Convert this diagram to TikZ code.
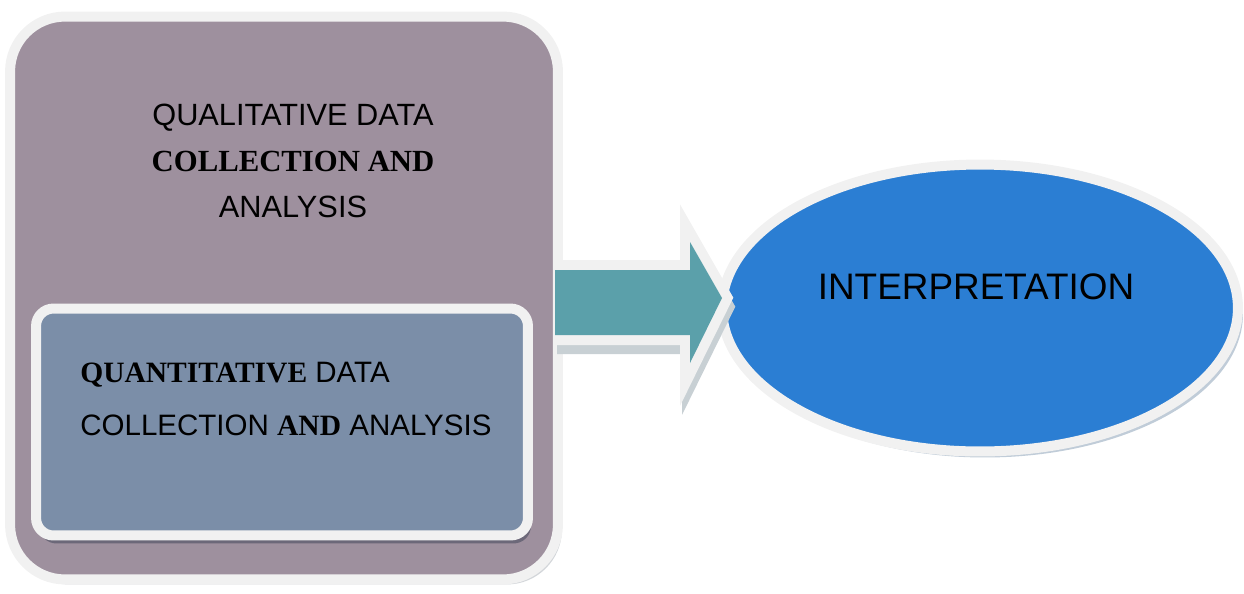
\documentclass[tikz,border=0pt]{standalone}
\usepackage{fontspec}
\setmainfont{Liberation Sans}
\newfontfamily\serifbold{Liberation Serif}
\usetikzlibrary{shapes.geometric}
\definecolor{rimgray}{HTML}{F1F1F1}
\definecolor{qualfill}{HTML}{9E909E}
\definecolor{quantfill}{HTML}{7B8EA8}
\definecolor{arrowfill}{HTML}{5BA0AA}
\definecolor{interpfill}{HTML}{2B7ED3}
\definecolor{softshadow}{HTML}{D3D6DA}
\definecolor{arrowshadow}{HTML}{C8D0D4}
\definecolor{darkshadow}{HTML}{6C6879}
\definecolor{blueshadow}{HTML}{C0CCD8}

\begin{document}
\begin{tikzpicture}[x=0.02cm,y=-0.02cm,inner sep=0pt,
  rim/.style={draw=rimgray,line width=0.2cm},
  bigbox/.style={rectangle,rounded corners=1.1cm,minimum width=10.96cm,minimum height=11.26cm},
  smallbox/.style={rectangle,rounded corners=0.35cm,minimum width=9.84cm,minimum height=4.54cm},
  oval/.style={ellipse,minimum width=10.32cm,minimum height=5.74cm},
  label/.style={font=\fontsize{17.5}{26}\selectfont}]
\useasboundingbox (0,0) rectangle (1244,593);
%Qualitative box
\node at (288,303) [bigbox,fill=softshadow] (qualshadow) {};
\node at (284,298) [bigbox,rim,fill=qualfill] (qual) {};
\node at (293,161) [label,align=center] (qualtext) {QUALITATIVE DATA\\{\serifbold\bfseries COLLECTION AND}\\ANALYSIS};
%Quantitative box
\node at (285,430) [smallbox,fill=darkshadow] (quantshadow) {};
\node at (282,422) [smallbox,rim,fill=quantfill] (quant) {};
\node at (80,399) [align=left,anchor=west,font=\fontsize{16.8}{30}\selectfont] (quanttext) {{\serifbold\bfseries QUANTITATIVE} DATA\\COLLECTION {\serifbold\bfseries AND} ANALYSIS};
%Interpretation
\node at (985,314) [oval,fill=blueshadow] (interpshadow) {};
\node at (980,308) [oval,rim,fill=interpfill] (interp) {};
\node at (976,287) [font=\fontsize{21}{25}\selectfont] (interptext) {INTERPRETATION};
%Arrow
\draw[arrowshadow,line width=0.4cm,line join=miter] (557,279) -- (692,279) -- (692,251) -- (724,307) -- (692,372) -- (692,344) -- (557,344);
\fill[arrowfill] (555,270) -- (690,270) -- (690,242) -- (722,298) -- (690,363) -- (690,335) -- (555,335) -- cycle;
\draw[rimgray,line width=0.4cm,line join=miter] (555,270) -- (690,270) -- (690,242) -- (722,298) -- (690,363) -- (690,335) -- (555,335);
\fill[arrowfill] (555,270) -- (690,270) -- (690,242) -- (722,298) -- (690,363) -- (690,335) -- (555,335) -- cycle;
\end{tikzpicture}
\end{document}
